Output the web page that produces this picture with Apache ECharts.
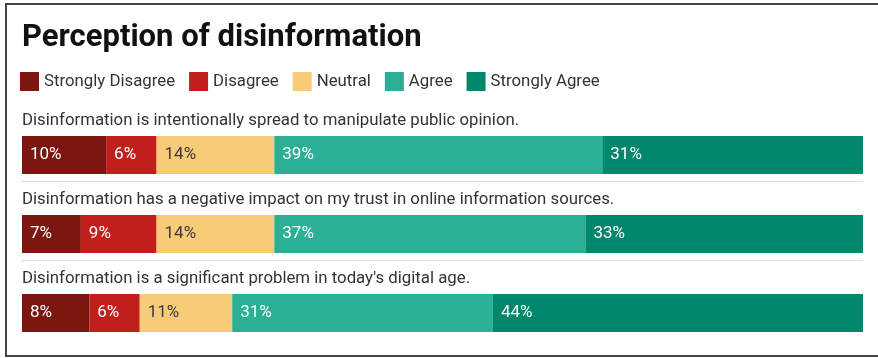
<!DOCTYPE html>
<html>
<head>
<meta charset="utf-8">
<script src="https://cdn.jsdelivr.net/npm/echarts@6/dist/echarts.min.js"></script>
<style>
  html, body { margin: 0; padding: 0; background: #fff; overflow: hidden; }
  #chart { width: 878px; height: 358px; }
</style>
</head>
<body>
<div id="chart"></div>
<script>
// Survey statements, one stacked bar per statement
const statements = [
  'Disinformation is intentionally spread to manipulate public opinion.',
  'Disinformation has a negative impact on my trust in online information sources.',
  "Disinformation is a significant problem in today's digital age."
];

// Response shares (%) per statement
const stronglyDisagree = [10, 7, 8];
const disagree         = [6, 9, 6];
const neutral          = [14, 14, 11];
const agree            = [39, 37, 31];
const stronglyAgree    = [31, 33, 44];

const responseNames = ['Strongly Disagree', 'Disagree', 'Neutral', 'Agree', 'Strongly Agree'];
const responseValues = [stronglyDisagree, disagree, neutral, agree, stronglyAgree];
const responseColors = ['#7b1611', '#c01f1b', '#f8cb79', '#2bb096', '#01876b'];
const labelColors = ['#ffffff', '#ffffff', '#3a3a3a', '#ffffff', '#ffffff'];

const FONT = 'Roboto, "Noto Sans", sans-serif';
const gridTops = [136, 215, 294];
const barHeight = 38;

const grids = [], xAxes = [], yAxes = [], series = [];

statements.forEach((text, i) => {
  grids.push({ left: 22, right: 15, top: gridTops[i], height: barHeight });
  xAxes.push({
    type: 'value', gridIndex: i, min: 0, max: 100,
    axisLabel: { show: false }, axisTick: { show: false }, splitLine: { show: false },
    // dotted divider beneath each statement except the last
    axisLine: {
      show: i < statements.length - 1,
      lineStyle: { type: [2, 2], color: '#d4d4d4', width: 1 }
    },
    offset: 7
  });
  yAxes.push({
    type: 'category', gridIndex: i, data: [text],
    axisLine: { show: false }, axisTick: { show: false }, axisLabel: { show: false },
    name: text, nameLocation: 'end', nameGap: 15,
    nameTextStyle: {
      fontFamily: FONT, fontSize: 16.8, color: '#333',
      align: 'left', verticalAlign: 'middle'
    }
  });
  responseNames.forEach((name, k) => {
    series.push({
      type: 'bar', name, stack: 'row' + i,
      xAxisIndex: i, yAxisIndex: i,
      barWidth: '100%',
      data: [responseValues[k][i]],
      itemStyle: { color: responseColors[k] },
      label: {
        show: true, position: 'insideLeft', distance: 8,
        formatter: '{c}%',
        fontFamily: FONT, fontSize: 17, color: labelColors[k]
      },
      emphasis: { disabled: true },
      animation: false
    });
  });
});

const chart = echarts.init(document.getElementById('chart'), null, { renderer: 'canvas' });
chart.setOption({
  animation: false,
  title: {
    text: 'Perception of disinformation',
    left: 17, top: 18,
    textStyle: { fontFamily: FONT, fontSize: 31, fontWeight: 'bold', color: '#111' }
  },
  legend: {
    data: responseNames,
    left: 15, top: 67,
    icon: 'rect', itemWidth: 19, itemHeight: 19, itemGap: 14,
    selectedMode: false,
    textStyle: { fontFamily: FONT, fontSize: 16.8, color: '#333' }
  },
  graphic: [{
    type: 'rect', silent: true,
    shape: { x: 6, y: 4, width: 900, height: 352 },
    style: { fill: 'none', stroke: '#444', lineWidth: 2 }
  }],
  grid: grids,
  xAxis: xAxes,
  yAxis: yAxes,
  series
});
</script>
</body>
</html>
